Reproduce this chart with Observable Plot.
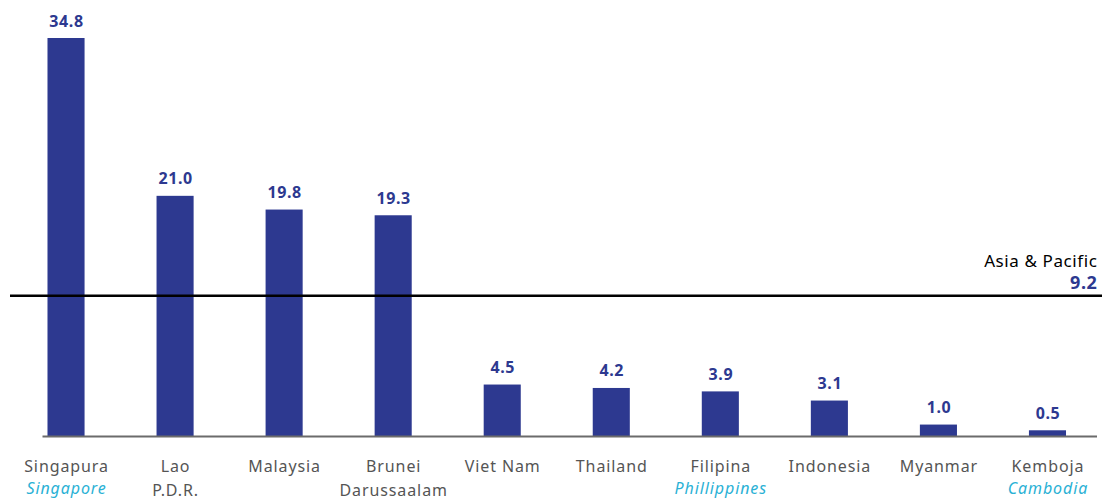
<!DOCTYPE html>
<html>
<head>
<meta charset="utf-8">
<script src="https://cdn.jsdelivr.net/npm/d3@7"></script>
<script src="https://cdn.jsdelivr.net/npm/@observablehq/plot@0.6"></script>
<style>
  html, body { margin: 0; padding: 0; background: #fff; }
  #chart svg { display: block; }
  .vlabel text { letter-spacing: 0.6px; }
  .wide text { letter-spacing: 0.9px; }
</style>
</head>
<body>
<div id="chart"></div>
<script>
const categories = ["Singapura", "Lao\nP.D.R.", "Malaysia", "Brunei\nDarussaalam", "Viet Nam", "Thailand", "Filipina", "Indonesia", "Myanmar", "Kemboja"];
const englishNames = ["Singapore", "", "", "", "", "", "Phillippines", "", "", "Cambodia"];
const values = [34.8, 21.0, 19.8, 19.3, 4.5, 4.2, 3.9, 3.1, 1.0, 0.5];
const regionName = ["Asia & Pacific"];
const regionValueLabel = ["9.2"];
const regionLinePosition = [12.3]; // where the line is drawn in the picture

const data = categories.map((c, i) => ({cat: c, value: values[i], en: englishNames[i]}));
const blue = "#2d3990";
const cyan = "#2ab1d5";

const chart = Plot.plot({
  width: 1102,
  height: 501,
  marginTop: 38,
  marginBottom: 65,
  marginLeft: 11.5,
  marginRight: 0,
  style: {fontFamily: "'Noto Sans', sans-serif", background: "#fff"},
  x: {domain: categories, paddingInner: 0.66, paddingOuter: 0.33, round: false, label: null},
  y: {domain: [0, 34.8], axis: null},
  marks: [
    Plot.barY(data, {x: "cat", y: "value", fill: blue}),
    Plot.ruleY([0], {stroke: "#6b6b6b", strokeWidth: 2, insetLeft: 31, insetRight: 5}),
    Plot.ruleY(regionLinePosition, {stroke: "#000", strokeWidth: 2.5, insetLeft: -1.5}),
    Plot.text(data, {x: "cat", y: "value", text: d => d.value.toFixed(1), lineAnchor: "bottom", dy: -12, fill: blue, fontWeight: "bold", fontSize: 16, className: "vlabel"}),
    Plot.axisX({tickSize: 0, tickPadding: 19.5, fontSize: 16, lineHeight: 1.45, fill: "#555", label: null, className: "wide"}),
    Plot.text(data.filter(d => d.en), {x: "cat", text: "en", frameAnchor: "bottom", lineAnchor: "top", dy: 46.5, fill: cyan, fontStyle: "italic", fontSize: 16, className: "wide"}),
    Plot.text(regionName, {y: regionLinePosition, text: d => d, frameAnchor: "right", textAnchor: "end", lineAnchor: "bottom", dx: -5, dy: -29, fill: "#000", fontSize: 17, className: "vlabel"}),
    Plot.text(regionValueLabel, {y: regionLinePosition, text: d => d, frameAnchor: "right", textAnchor: "end", lineAnchor: "bottom", dx: -5, dy: -7, fill: blue, fontWeight: "bold", fontSize: 18, className: "vlabel"})
  ]
});
document.getElementById("chart").appendChild(chart);
</script>
</body>
</html>
